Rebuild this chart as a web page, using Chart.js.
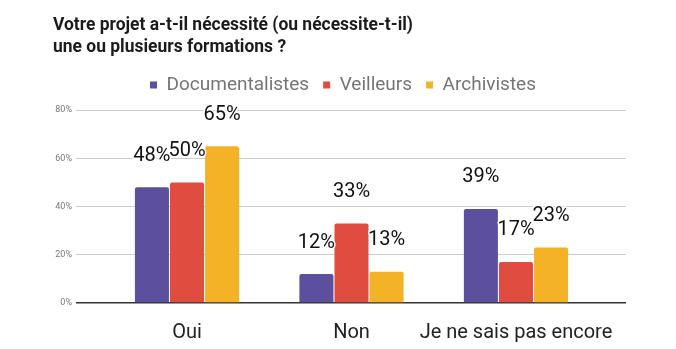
<!DOCTYPE html>
<html><head><meta charset="utf-8">
<script src="https://cdn.jsdelivr.net/npm/chart.js@4/dist/chart.umd.min.js"></script>
<style>html,body{margin:0;padding:0;background:#fff}canvas{display:block}</style>
</head><body>
<canvas id="c" width="676" height="349"></canvas>
<script>
const titleLines = ['Votre projet a-t-il nécessité (ou nécessite-t-il)', 'une ou plusieurs formations ?'];
const categories = ['Oui', 'Non', 'Je ne sais pas encore'];
const seriesNames = ['Documentalistes', 'Veilleurs', 'Archivistes'];
const documentalistes = [48, 12, 39];
const veilleurs = [50, 33, 17];
const archivistes = [65, 13, 23];
const yTickValues = [0, 20, 40, 60, 80];
const seriesColors = ['#5b4f9e', '#e04c40', '#f4b226'];

const seriesValues = [documentalistes, veilleurs, archivistes];

const titlePlugin = {
  id: 'ttl',
  afterDraw(chart) {
    const ctx = chart.ctx;
    ctx.save();
    ctx.font = 'bold 19px Roboto';
    ctx.fillStyle = '#1b1b1b';
    ctx.textBaseline = 'alphabetic';
    ctx.textAlign = 'left';
    const w = ctx.measureText(titleLines[0]).width;
    const s = 360 / w;
    ctx.translate(53, 0);
    ctx.scale(s, 1);
    ctx.fillText(titleLines[0], 0, 30);
    ctx.fillText(titleLines[1], 0, 52);
    ctx.restore();
  }
};

const labelPlugin = {
  id: 'vals',
  afterDatasetsDraw(chart) {
    const ctx = chart.ctx;
    ctx.save();
    ctx.font = '20px Roboto';
    ctx.textAlign = 'center';
    ctx.textBaseline = 'alphabetic';
    ctx.lineJoin = 'round';
    ctx.strokeStyle = '#ffffff';
    ctx.lineWidth = 3;
    ctx.fillStyle = '#111';
    for (let i = 0; i < categories.length; i++) {
      chart.data.datasets.forEach((ds, di) => {
        const el = chart.getDatasetMeta(di).data[i];
        const t = ds.data[i].y + '%';
        ctx.strokeText(t, el.x, el.y - 26.5);
        ctx.fillText(t, el.x, el.y - 26.5);
      });
    }
    ctx.restore();
  }
};

const legendPad = {
  id: 'legendPad',
  beforeLayout(chart) {
    const lg = chart.legend;
    if (lg && !lg._patched) {
      const orig = lg.fit;
      lg.fit = function () { orig.call(this); this.height += 5.5; };
      lg._patched = true;
    }
  },
  afterLayout(chart) {
    const lg = chart.legend;
    if (lg) {
      lg.left += 30;
      lg.right += 30;
      if (lg.legendHitBoxes) lg.legendHitBoxes.forEach(b => { b.left += 30; });
    }
  }
};

new Chart(document.getElementById('c'), {
  type: 'bar',
  data: {
    datasets: seriesNames.map((name, k) => ({
      label: name,
      data: seriesValues[k].map((v, i) => ({ x: i, y: v })),
      backgroundColor: seriesColors[k],
      borderWidth: 0,
      borderRadius: 2,
      categoryPercentage: 0.64,
      barPercentage: 0.97
    }))
  },
  options: {
    responsive: false,
    animation: false,
    devicePixelRatio: 1,
    layout: { padding: { top: 61.5, right: 50, left: 0, bottom: 0 } },
    plugins: {
      legend: {
        position: 'top',
        labels: {
          boxWidth: 7, boxHeight: 7, padding: 14,
          color: '#757575',
          font: { family: 'Roboto', size: 19 }
        }
      },
      tooltip: { enabled: false },
      title: { display: false }
    },
    scales: {
      x: {
        type: 'linear',
        min: -0.675,
        max: 2.669,
        offset: false,
        grid: { display: false },
        border: { display: false },
        afterFit(s) { s.height = 46; },
        ticks: {
          stepSize: 1,
          autoSkip: false,
          maxRotation: 0,
          includeBounds: false,
          padding: 10,
          color: '#222',
          font: { family: 'Roboto', size: 20 },
          callback(v) { return Number.isInteger(v) && categories[v] !== undefined ? categories[v] : ''; }
        }
      },
      y: {
        min: yTickValues[0],
        max: yTickValues[yTickValues.length - 1],
        afterFit(s) { s.width = 76; },
        afterBuildTicks(s) { s.ticks = yTickValues.map(v => ({ value: v })); },
        border: { display: false },
        grid: {
          drawTicks: false,
          color: c => c.tick.value === 0 ? '#333' : '#cccccc',
          lineWidth: c => c.tick.value === 0 ? 1.5 : 1
        },
        ticks: {
          padding: 4,
          color: '#777',
          font: { family: 'Roboto', size: 9 },
          callback: v => v + '%'
        }
      }
    }
  },
  plugins: [titlePlugin, labelPlugin, legendPad]
});
</script>
</body></html>
